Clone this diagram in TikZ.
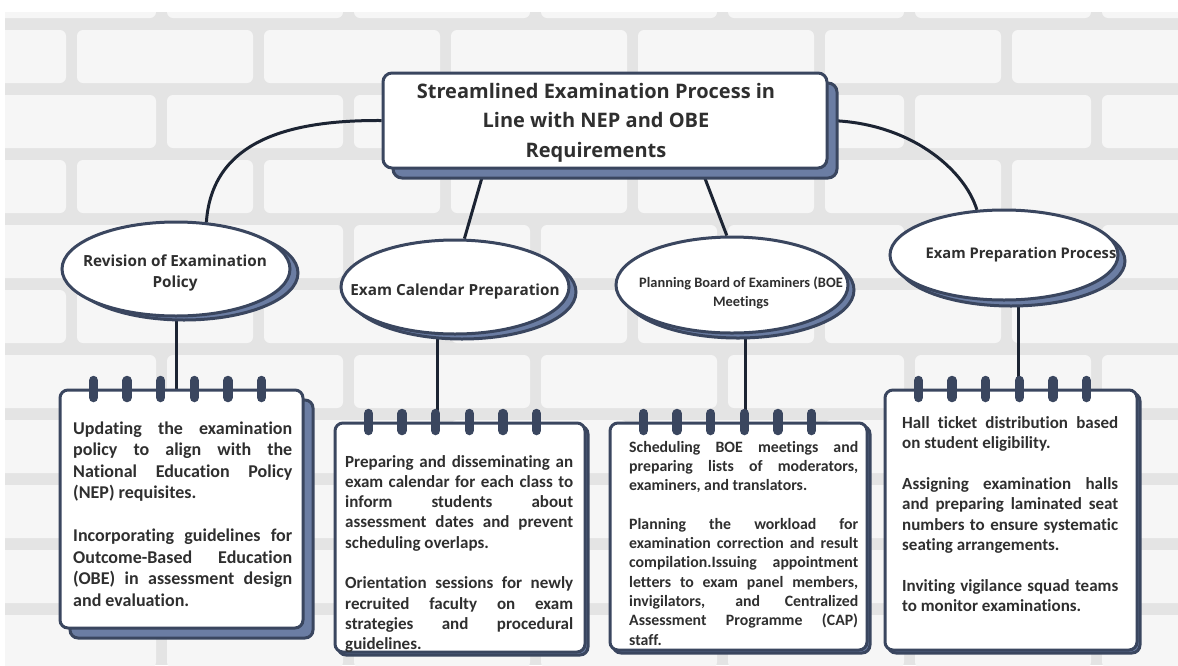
\documentclass[tikz,border=0pt]{standalone}
\usepackage{fontspec}
\setmainfont{Open Sans}
\newfontfamily\cardfont[Ligatures=NoCommon]{Carlito}
\usetikzlibrary{shapes.geometric,calc}
\definecolor{navy}{HTML}{3A465F}
\definecolor{slate}{HTML}{6B7DA3}
\definecolor{ink}{HTML}{2F2F2F}
\definecolor{wirec}{HTML}{1C2433}
\definecolor{mortar}{HTML}{E4E4E4}
\definecolor{brickc}{HTML}{F6F6F6}
\pgfdeclarelayer{back}
\pgfsetlayers{back,main}
\newcommand\jline[1]{\hbox to\hsize{#1}}
\newcommand\lline[1]{\hbox{#1}}
\newcommand\pgap{\vskip\baselineskip}
\begin{document}
\begin{tikzpicture}[x=1pt,y=-1pt,
  boxline/.style={draw=navy, line width=3pt},
  titlebox/.style={boxline, fill=white, rounded corners=9pt, shape=rectangle, inner sep=0pt},
  shadowbox/.style={boxline, fill=slate, rounded corners=9pt, shape=rectangle, inner sep=0pt},
  ellnode/.style={boxline, fill=white, shape=ellipse, inner sep=0pt},
  ellshadow/.style={boxline, fill=slate, shape=ellipse, inner sep=0pt},
  cardbox/.style={boxline, fill=white, rounded corners=8pt, shape=rectangle, inner sep=0pt},
  cardshadow/.style={boxline, fill=slate, rounded corners=8pt, shape=rectangle, inner sep=0pt},
  ringline/.style={draw=navy, line width=9.5pt, line cap=round},
  wireline/.style={draw=wirec, line width=3pt},
  titletext/.style={text=ink, font=\bfseries\fontsize{20}{29.5}\selectfont, align=center, inner sep=0pt},
  elltext/.style={text=ink, font=\bfseries\fontsize{15.3}{21}\selectfont, align=center, inner sep=0pt},
  cardtext/.style={text=ink, inner sep=0pt, anchor=base west},
]
\useasboundingbox (0,0) rectangle (1178,665);

% title
\node[shadowbox, minimum width=444pt, minimum height=95pt] (t0s) at (615,130.5) {};
\node[titlebox, minimum width=444pt, minimum height=95pt] (t0) at (605,120.5) {};
\node[titletext] (t0lab) at (596,122.5) {Streamlined Examination Process in\\Line with NEP and OBE\\Requirements};

% ellipses
\node[ellshadow, minimum width=228pt, minimum height=94pt] (e1s) at (184,273) {};
\node[ellnode, minimum width=228pt, minimum height=94pt] (e1) at (176,269) {};
\node[elltext] (e1lab) at (175,272.5) {Revision of Examination\\Policy};

\node[ellshadow, minimum width=228pt, minimum height=94pt] (e2s) at (462,292) {};
\node[ellnode, minimum width=228pt, minimum height=94pt] (e2) at (455,287) {};
\node[elltext] (e2lab) at (455,292) {Exam Calendar Preparation};

\node[ellshadow, minimum width=232pt, minimum height=96pt] (e3s) at (738,290) {};
\node[ellnode, minimum width=232pt, minimum height=96pt] (e3) at (732,285) {};
\node[elltext, font=\cardfont\bfseries\fontsize{14.4}{19}\selectfont] (e3lab) at (741,292.5) {Planning Board of Examiners (BOE\\Meetings};

\node[ellshadow, minimum width=228pt, minimum height=90pt] (e4s) at (1011,261) {};
\node[ellnode, minimum width=228pt, minimum height=90pt] (e4) at (1004,255) {};
\node[elltext, font=\bfseries\fontsize{14.7}{20}\selectfont] (e4lab) at (1021,255) {Exam Preparation Process};

% cards
\node[cardshadow, minimum width=243pt, minimum height=238pt] (c1s) at (191.5,519) {};
\node[cardbox, minimum width=243pt, minimum height=238pt] (c1) at (181.5,509) {};
\node[cardshadow, minimum width=250pt, minimum height=229pt] (c2s) at (463,540.5) {};
\node[cardbox, minimum width=250pt, minimum height=229pt] (c2) at (460,537.5) {};
\node[cardshadow, minimum width=257pt, minimum height=227pt] (c3s) at (741.5,539.5) {};
\node[cardbox, minimum width=257pt, minimum height=227pt] (c3) at (738.5,536.5) {};
\node[cardshadow, minimum width=252pt, minimum height=260pt] (c4s) at (1014,523) {};
\node[cardbox, minimum width=252pt, minimum height=260pt] (c4) at (1011,520) {};

\node[cardtext, font=\cardfont\bfseries\fontsize{18}{21.5}\selectfont] (c1t) at (73,434) {\vtop{\hsize=219pt
\jline{Updating the examination}
\jline{policy to align with the}
\jline{National Education Policy}
\lline{(NEP) requisites.}
\pgap
\jline{Incorporating guidelines for}
\jline{Outcome-Based Education}
\jline{(OBE) in assessment design}
\lline{and evaluation.}}};

\begin{scope}
\clip ($(c2.south west)+(1.5,-1.5)$) rectangle ($(c2.north east)+(-1.5,1.5)$);
\node[cardtext, font=\cardfont\bfseries\fontsize{17}{20.3}\selectfont] (c2t) at (345,467) {\vtop{\hsize=228pt
\jline{Preparing and disseminating an}
\jline{exam calendar for each class to}
\jline{inform students about}
\jline{assessment dates and prevent}
\lline{scheduling overlaps.}
\pgap
\jline{Orientation sessions for newly}
\jline{recruited faculty on exam}
\jline{strategies and procedural}
\lline{guidelines.}}};
\end{scope}

\node[cardtext, font=\cardfont\bfseries\fontsize{15.8}{19.3}\selectfont] (c3t) at (629,452) {\vtop{\hsize=229pt
\jline{Scheduling BOE meetings and}
\jline{preparing lists of moderators,}
\lline{examiners, and translators.}
\pgap
\jline{Planning the workload for}
\jline{examination correction and result}
\jline{compilation.Issuing appointment}
\jline{letters to exam panel members,}
\jline{invigilators, and Centralized}
\jline{Assessment Programme (CAP)}
\lline{staff.}}};

\node[cardtext, font=\cardfont\bfseries\fontsize{17}{20.4}\selectfont] (c4t) at (902,428) {\vtop{\hsize=216pt
\jline{Hall ticket distribution based}
\lline{on student eligibility.}
\pgap
\jline{Assigning examination halls}
\jline{and preparing laminated seat}
\jline{numbers to ensure systematic}
\lline{seating arrangements.}
\pgap
\jline{Inviting vigilance squad teams}
\lline{to monitor examinations.}}};

% rings
\foreach \c in {c1,c2,c3,c4}{
  \foreach \i in {0,...,5}{
    \draw[ringline] ($(\c.north west)+(35+33.6*\i,-8)$) -- ($(\c.north west)+(35+33.6*\i,9)$);
  }
}

\begin{pgfonlayer}{back}
\fill[white] (0,0) rectangle (1178,665);
\fill[mortar] (5,12) rectangle (1178,665);
\begin{scope}
\clip (5,12) rectangle (1178,665);
\foreach \r in {0,...,10}{
  \pgfmathsetmacro{\yy}{-35+65*\r}
  \pgfmathsetmacro{\xo}{ifthenelse(mod(\r,2)==0,-20,-110)}
  \foreach \c in {0,...,7}{
    \fill[brickc, rounded corners=6pt] ({\xo+187*\c},\yy) rectangle ++(176,53);
  }
}
\end{scope}
% connectors
\draw[wireline] (t0.west) .. controls (290,120) and (212,140) .. (e1.57);
\draw[wireline] ($(t0.south west)!0.23!(t0.south east)$) -- (e2.79);
\draw[wireline] ($(t0.south west)!0.716!(t0.south east)$) -- (e3.96);
\draw[wireline] (t0.east) .. controls (910,122) and (965,170) .. (e4.121);
\draw[wireline] (e1.south) -- (e1.south |- c1.north);
\draw[wireline] (e2.-110) -- (e2.-110 |- c2.north);
\draw[wireline] (e3.-75) -- (e3.-75 |- c3.north);
\draw[wireline] (e4.-73) -- (e4.-73 |- c4.north);
\end{pgfonlayer}
\end{tikzpicture}
\end{document}
